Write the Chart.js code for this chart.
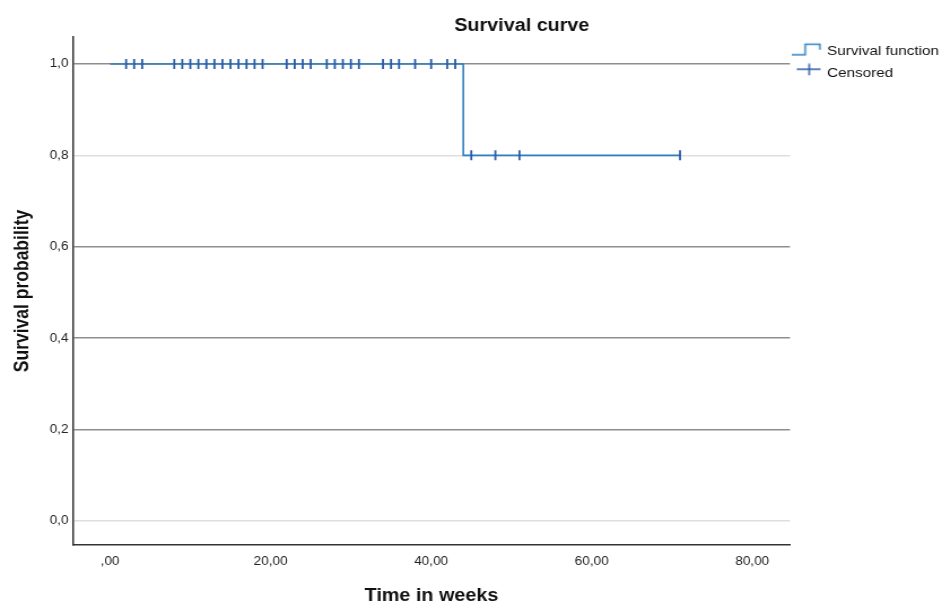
<!DOCTYPE html>
<html>
<head>
<meta charset="utf-8">
<script src="https://cdn.jsdelivr.net/npm/chart.js@4"></script>
<style>
  html, body { margin: 0; padding: 0; background: #fff; overflow: hidden; }
  /* the source image is stretched horizontally, so draw narrower and stretch */
  #wrap { width: 834px; height: 605px; transform: scaleX(1.1295); transform-origin: 0 0; }
</style>
</head>
<body>
<div id="wrap"><canvas id="km"></canvas></div>
<script>
const chartTitle = 'Survival curve';
const xTicks = [0, 20, 40, 60, 80];
const yTicks = [0, 0.2, 0.4, 0.6, 0.8, 1.0];

// Kaplan-Meier step: start, event at 44 weeks, last follow-up
const survTimes = [0, 44, 71];
const survProb = [1.0, 0.8, 0.8];

// censored observations
const censTimes = [2, 3, 4, 8, 9, 10, 11, 12, 13, 14, 15, 16, 17, 18, 19, 22, 23, 24, 25, 27, 28, 29, 30, 31, 34, 35, 36, 38, 40, 42, 43, 45, 48, 51, 71];
const censProb = [1, 1, 1, 1, 1, 1, 1, 1, 1, 1, 1, 1, 1, 1, 1, 1, 1, 1, 1, 1, 1, 1, 1, 1, 1, 1, 1, 1, 1, 1, 1, 0.8, 0.8, 0.8, 0.8];

const FONT = '"Liberation Sans", Arial, sans-serif';
const lineBlue = '#2f80c0';
const markBlue = '#2a5aa6';

function makeIcon(draw) {
    const c = document.createElement('canvas');
    c.width = 30; c.height = 20;
    const g = c.getContext('2d');
    g.lineWidth = 1.5;
    draw(g);
    return c;
}
const stepIcon = makeIcon(g => {
    g.strokeStyle = lineBlue;
    g.beginPath();
    g.moveTo(0, 13); g.lineTo(11.5, 13); g.lineTo(11.5, 2.5); g.lineTo(24.5, 2.5); g.lineTo(24.5, 8);
    g.stroke();
});
const censIcon = makeIcon(g => {
    g.strokeStyle = markBlue;
    g.beginPath();
    g.moveTo(4, 6); g.lineTo(25, 6);
    g.moveTo(15, 0.5); g.lineTo(15, 12);
    g.stroke();
});

const titlePlugin = {
    id: 'kmTitle',
    afterDraw(chart) {
        const ctx = chart.ctx;
        ctx.save();
        ctx.font = 'bold 17.5px ' + FONT;
        ctx.fillStyle = '#111';
        ctx.textAlign = 'center';
        ctx.textBaseline = 'middle';
        ctx.fillText(chartTitle, 462, 26);
        ctx.restore();
    }
};

new Chart(document.getElementById('km'), {
    type: 'scatter',
    data: {
        datasets: [
            {
                label: 'Survival function',
                data: survTimes.map((t, i) => ({x: t, y: survProb[i]})),
                showLine: true,
                stepped: 'before',
                borderColor: lineBlue,
                borderWidth: 1.6,
                pointRadius: 0,
                order: 1
            },
            {
                label: 'Censored',
                data: censTimes.map((t, i) => ({x: t, y: censProb[i]})),
                pointStyle: 'line',
                rotation: 90,
                pointRadius: 5,
                borderWidth: 1.8,
                borderColor: markBlue,
                backgroundColor: markBlue,
                order: 0
            }
        ]
    },
    options: {
        responsive: true,
        maintainAspectRatio: false,
        animation: false,
        layout: { padding: { top: 37, right: 0, left: 0, bottom: 0 } },
        plugins: {
            title: { display: false },
            tooltip: { enabled: false },
            legend: {
                position: 'right',
                align: 'start',
                maxWidth: 134.6,
                labels: {
                    usePointStyle: true,
                    pointStyleWidth: 18,
                    padding: 8,
                    color: '#111',
                    font: { family: FONT, size: 13.5 },
                    sort: (a, b) => a.datasetIndex - b.datasetIndex,
                    generateLabels: chart => {
                        const items = Chart.defaults.plugins.legend.labels.generateLabels(chart);
                        items.forEach(it => {
                            it.pointStyle = it.datasetIndex === 0 ? stepIcon : censIcon;
                            it.rotation = 0;
                        });
                        return items;
                    }
                }
            }
        },
        scales: {
            x: {
                type: 'linear',
                min: -4.62,
                max: 84.7,
                afterBuildTicks: s => { s.ticks = xTicks.map(v => ({value: v})); },
                afterFit: s => { s.height = 60; },
                grid: { display: false, drawTicks: false },
                border: { display: true, color: '#333', width: 1.5 },
                ticks: {
                    padding: 9,
                    color: '#222',
                    font: { family: FONT, size: 12 },
                    callback: v => (v === 0 ? ',00' : v.toFixed(2).replace('.', ','))
                },
                title: {
                    display: true,
                    text: 'Time in weeks',
                    color: '#111',
                    font: { family: FONT, size: 17.5, weight: 'bold', lineHeight: 1 },
                    padding: { top: 0, bottom: 0 }
                }
            },
            y: {
                type: 'linear',
                min: -0.0525,
                max: 1.059,
                afterBuildTicks: s => { s.ticks = yTicks.map(v => ({value: v})); },
                afterFit: s => { s.width = 64.6; },
                grid: {
                    drawTicks: false,
                    lineWidth: 1.5,
                    color: c => (c.tick && (c.tick.value === 0.8 || c.tick.value === 0)) ? '#dedede' : '#8e8e8e'
                },
                border: { display: true, color: '#333', width: 1.5 },
                ticks: {
                    padding: 4,
                    color: '#222',
                    font: { family: FONT, size: 12 },
                    callback: v => v.toFixed(1).replace('.', ',')
                },
                title: {
                    display: true,
                    text: 'Survival probability',
                    color: '#111',
                    font: { family: FONT, size: 17.5, weight: 'bold', lineHeight: 1 },
                    padding: { top: 11.5, bottom: 2 }
                }
            }
        }
    },
    plugins: [titlePlugin]
});
</script>
</body>
</html>
